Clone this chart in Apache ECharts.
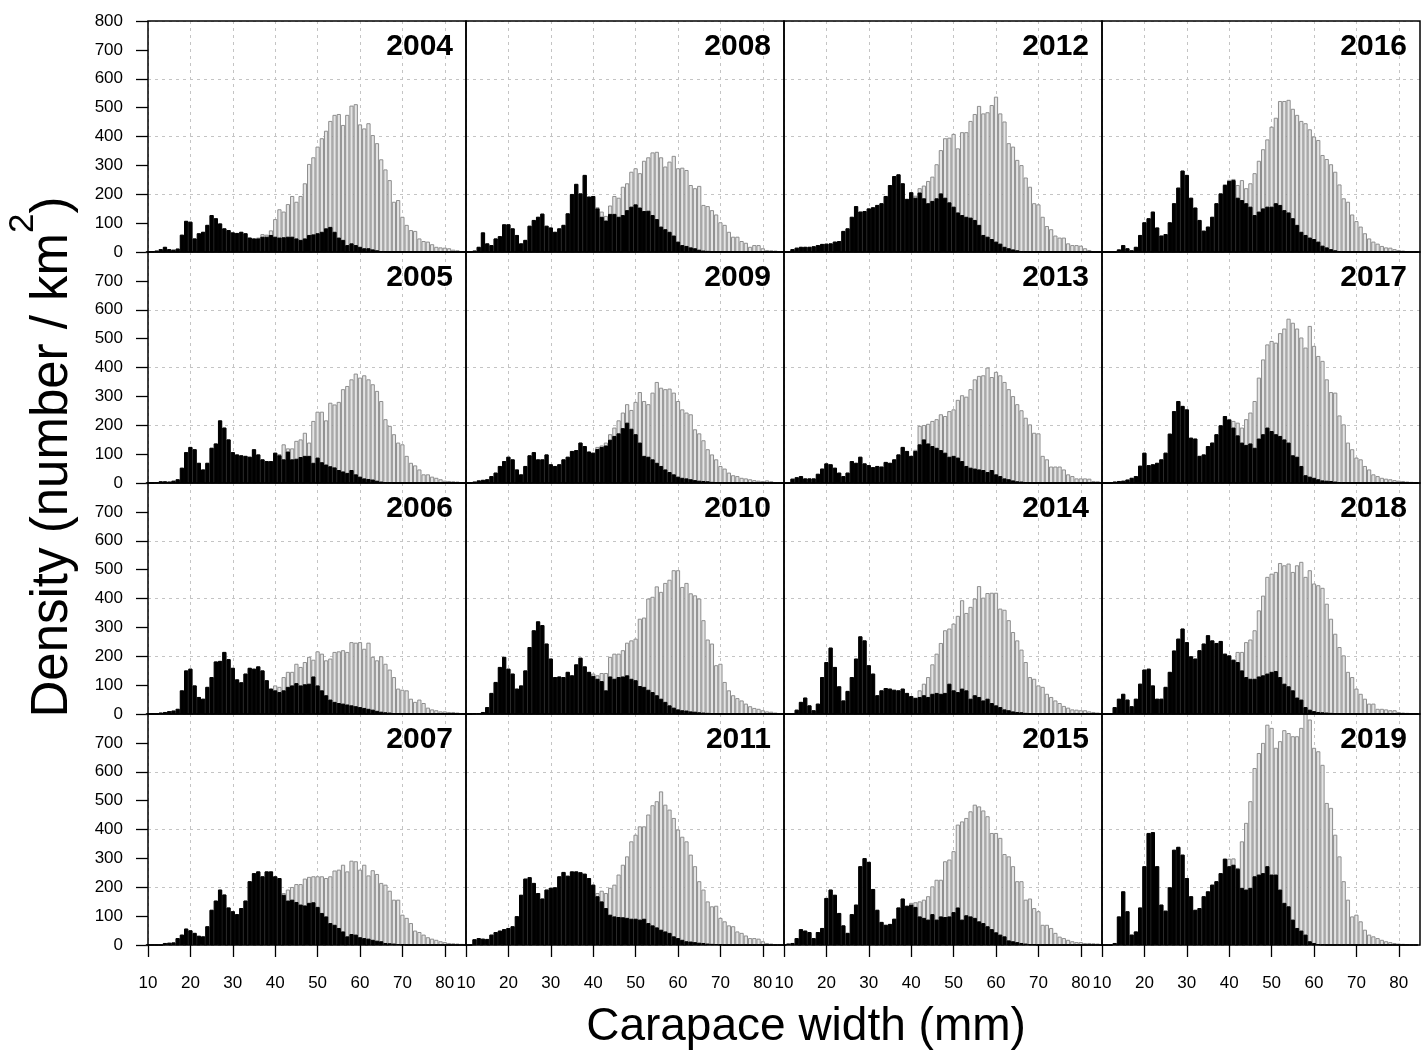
<!DOCTYPE html>
<html>
<head>
<meta charset="utf-8">
<script src="https://cdn.jsdelivr.net/npm/echarts@6/dist/echarts.min.js"></script>
<style>
  html, body { margin: 0; padding: 0; background: #fff; }
  #chart { width: 1422px; height: 1051px; }
</style>
</head>
<body>
<div id="chart"></div>
<script>
// Carapace-width classes (bin centres, mm); each bin is 1 mm wide.
const sizeClassMm = [
  10, 11, 12, 13, 14, 15, 16, 17, 18, 19,
  20, 21, 22, 23, 24, 25, 26, 27, 28, 29,
  30, 31, 32, 33, 34, 35, 36, 37, 38, 39,
  40, 41, 42, 43, 44, 45, 46, 47, 48, 49,
  50, 51, 52, 53, 54, 55, 56, 57, 58, 59,
  60, 61, 62, 63, 64, 65, 66, 67, 68, 69,
  70, 71, 72, 73, 74, 75, 76, 77, 78, 79,
  80, 81, 82, 83, 84
];

const xTickValues = [10, 20, 30, 40, 50, 60, 70, 80];
const yTickValuesTopRow = [0, 100, 200, 300, 400, 500, 600, 700, 800];
const yTickValues = [0, 100, 200, 300, 400, 500, 600, 700];

const years = [2004, 2005, 2006, 2007, 2008, 2009, 2010, 2011,
               2012, 2013, 2014, 2015, 2016, 2017, 2018, 2019];

// Density (number / km^2) per size class: black = subset, grey = total.
const subset2004 = [
  0, 2, 5, 10, 18, 10, 8, 12, 60, 108,
  105, 47, 65, 70, 94, 128, 117, 99, 82, 76,
  68, 66, 70, 65, 50, 47, 47, 53, 53, 59,
  53, 50, 51, 53, 53, 47, 42, 47, 59, 61,
  65, 70, 82, 87, 70, 50, 42, 24, 30, 24,
  18, 13, 13, 9, 6, 3, 2, 0, 0, 0,
  0, 0, 0, 0, 0, 0, 0, 0, 0, 0,
  0, 0, 0, 0, 0];
const total2004 = [
  0, 2, 5, 10, 18, 10, 8, 12, 60, 108,
  105, 47, 65, 70, 94, 128, 117, 99, 82, 76,
  68, 66, 70, 65, 50, 47, 50, 62, 60, 75,
  114, 148, 140, 166, 194, 174, 194, 238, 305, 328,
  365, 394, 420, 454, 475, 478, 440, 475, 507, 512,
  442, 428, 446, 405, 377, 321, 286, 249, 174, 180,
  122, 94, 76, 73, 47, 38, 36, 27, 18, 16,
  15, 13, 8, 6, 3];

const subset2005 = [
  0, 0, 3, 6, 6, 5, 8, 13, 53, 107,
  125, 117, 70, 47, 70, 122, 137, 217, 192, 151,
  107, 99, 96, 94, 91, 117, 99, 82, 76, 76,
  105, 96, 82, 109, 82, 84, 90, 94, 94, 70,
  88, 72, 64, 58, 54, 45, 40, 35, 45, 30,
  22, 16, 14, 12, 8, 5, 3, 2, 1, 0,
  0, 0, 0, 0, 0, 0, 0, 0, 0, 0,
  0, 0, 0, 0, 0];
const total2005 = [
  0, 0, 3, 6, 6, 5, 8, 13, 53, 107,
  125, 117, 70, 47, 70, 122, 137, 217, 192, 151,
  107, 99, 96, 94, 91, 117, 99, 82, 76, 76,
  105, 100, 134, 120, 120, 146, 151, 174, 140, 215,
  247, 247, 217, 278, 272, 281, 325, 336, 359, 379,
  365, 373, 359, 342, 319, 284, 221, 198, 169, 140,
  134, 94, 70, 61, 47, 30, 30, 22, 18, 13,
  8, 7, 6, 5, 3];

const subset2006 = [
  0, 0, 0, 5, 7, 10, 12, 18, 82, 151,
  157, 99, 59, 53, 94, 128, 182, 184, 215, 190,
  160, 120, 110, 140, 160, 157, 165, 151, 117, 88,
  82, 76, 82, 94, 99, 107, 99, 103, 105, 130,
  99, 82, 65, 50, 42, 38, 36, 33, 30, 27,
  24, 21, 18, 15, 11, 8, 6, 5, 3, 2,
  1, 0, 0, 0, 0, 0, 0, 0, 0, 0,
  0, 0, 0, 0, 0];
const total2006 = [
  0, 0, 0, 5, 7, 10, 12, 18, 82, 151,
  157, 99, 59, 53, 94, 128, 182, 184, 215, 190,
  160, 120, 110, 140, 160, 157, 165, 151, 117, 88,
  99, 94, 128, 146, 146, 174, 163, 180, 198, 188,
  217, 209, 186, 192, 215, 217, 221, 215, 249, 247,
  249, 226, 247, 198, 186, 200, 174, 154, 128, 88,
  84, 82, 53, 42, 50, 38, 22, 16, 13, 9,
  9, 7, 7, 5, 3];

const subset2007 = [
  0, 0, 0, 0, 7, 8, 9, 24, 36, 57,
  51, 42, 32, 30, 65, 122, 154, 192, 175, 130,
  117, 107, 128, 154, 221, 249, 255, 238, 255, 255,
  238, 232, 174, 154, 157, 149, 140, 137, 146, 148,
  132, 111, 99, 76, 70, 59, 47, 30, 38, 36,
  27, 24, 22, 18, 15, 13, 7, 6, 5, 3,
  2, 0, 0, 0, 0, 0, 0, 0, 0, 0,
  0, 0, 0, 0, 0];
const total2007 = [
  0, 0, 0, 0, 7, 8, 9, 24, 36, 57,
  51, 42, 32, 30, 65, 122, 154, 192, 175, 130,
  117, 107, 128, 154, 221, 249, 255, 238, 255, 255,
  238, 232, 180, 192, 201, 211, 211, 230, 236, 238,
  238, 238, 232, 238, 258, 261, 278, 255, 292, 290,
  261, 278, 241, 259, 246, 215, 209, 188, 157, 157,
  105, 94, 76, 50, 45, 36, 27, 22, 18, 13,
  10, 7, 6, 5, 4];

const subset2008 = [
  0, 0, 5, 18, 68, 30, 24, 47, 55, 96,
  96, 82, 59, 30, 42, 91, 111, 122, 133, 91,
  85, 70, 82, 94, 134, 201, 236, 203, 267, 192,
  194, 151, 122, 109, 132, 132, 122, 128, 145, 157,
  165, 154, 142, 143, 128, 114, 88, 79, 70, 57,
  36, 24, 21, 16, 13, 8, 5, 4, 0, 0,
  0, 0, 0, 0, 0, 0, 0, 0, 0, 0,
  0, 0, 0, 0, 0];
const total2008 = [
  0, 0, 5, 18, 68, 30, 24, 47, 55, 96,
  96, 82, 59, 30, 42, 91, 111, 122, 133, 91,
  85, 70, 82, 94, 134, 201, 236, 203, 267, 192,
  194, 155, 140, 125, 161, 194, 188, 226, 238, 278,
  290, 273, 316, 328, 345, 347, 328, 296, 313, 333,
  290, 292, 284, 232, 221, 229, 163, 159, 145, 130,
  103, 94, 70, 53, 53, 38, 32, 18, 24, 24,
  13, 7, 6, 5, 2];

const subset2009 = [
  0, 0, 5, 9, 11, 13, 24, 36, 59, 76,
  91, 82, 47, 30, 59, 96, 107, 82, 82, 99,
  65, 59, 65, 82, 91, 111, 114, 140, 128, 109,
  105, 118, 125, 130, 150, 163, 172, 190, 209, 188,
  169, 140, 94, 91, 82, 70, 59, 47, 38, 30,
  22, 18, 16, 13, 10, 8, 7, 6, 4, 3,
  2, 1, 0, 0, 0, 0, 0, 0, 0, 0,
  0, 0, 0, 0, 0];
const total2009 = [
  0, 0, 5, 9, 11, 13, 24, 36, 59, 76,
  91, 82, 47, 30, 59, 96, 107, 82, 82, 99,
  65, 59, 65, 82, 91, 111, 114, 140, 128, 109,
  105, 125, 130, 140, 169, 192, 217, 244, 273, 253,
  281, 315, 284, 273, 313, 350, 330, 325, 327, 313,
  284, 255, 244, 238, 186, 172, 148, 117, 99, 82,
  59, 50, 36, 27, 24, 18, 16, 13, 10, 8,
  7, 9, 6, 3, 2];

const subset2010 = [
  0, 0, 3, 3, 7, 24, 73, 111, 163, 198,
  157, 140, 88, 99, 151, 232, 290, 321, 308, 244,
  192, 128, 130, 128, 146, 134, 172, 195, 165, 146,
  132, 122, 114, 82, 130, 122, 128, 130, 134, 122,
  117, 97, 94, 84, 76, 65, 53, 42, 30, 22,
  16, 13, 12, 9, 8, 6, 5, 4, 3, 2,
  1, 0, 0, 0, 0, 0, 0, 0, 0, 0,
  0, 0, 0, 0, 0];
const total2010 = [
  0, 0, 3, 3, 7, 24, 73, 111, 163, 198,
  157, 140, 88, 99, 151, 232, 290, 321, 308, 244,
  192, 128, 130, 128, 146, 134, 172, 195, 165, 146,
  140, 134, 142, 142, 198, 209, 209, 221, 247, 255,
  261, 330, 334, 400, 406, 442, 423, 454, 465, 498,
  498, 440, 454, 418, 411, 400, 325, 258, 244, 169,
  174, 111, 82, 65, 55, 47, 36, 27, 21, 18,
  13, 9, 8, 5, 3];

const subset2011 = [
  0, 0, 20, 24, 22, 21, 36, 45, 50, 55,
  59, 65, 100, 174, 230, 235, 215, 180, 161, 192,
  198, 200, 238, 253, 240, 255, 255, 252, 247, 232,
  209, 169, 151, 128, 105, 99, 97, 96, 94, 91,
  91, 88, 91, 76, 68, 61, 53, 47, 42, 30,
  24, 18, 13, 12, 10, 8, 7, 5, 4, 3,
  2, 0, 0, 0, 0, 0, 0, 0, 0, 0,
  0, 0, 0, 0, 0];
const total2011 = [
  0, 0, 20, 24, 22, 21, 36, 45, 50, 55,
  59, 65, 100, 174, 230, 235, 215, 180, 161, 192,
  198, 200, 238, 253, 240, 255, 255, 252, 247, 232,
  209, 180, 188, 180, 198, 209, 244, 278, 307, 359,
  382, 411, 411, 452, 484, 498, 532, 486, 469, 440,
  400, 375, 359, 313, 273, 221, 192, 151, 134, 136,
  94, 82, 68, 65, 47, 42, 33, 24, 24, 22,
  13, 7, 5, 3, 2];

const subset2012 = [
  0, 0, 10, 15, 18, 18, 18, 20, 24, 28,
  29, 30, 36, 38, 73, 82, 122, 159, 140, 142,
  151, 155, 163, 169, 194, 232, 263, 269, 238, 184,
  207, 188, 206, 186, 169, 177, 186, 203, 188, 172,
  157, 137, 128, 122, 119, 111, 94, 59, 53, 45,
  36, 29, 18, 13, 9, 6, 3, 2, 0, 0,
  0, 0, 0, 0, 0, 0, 0, 0, 0, 0,
  0, 0, 0, 0, 0];
const total2012 = [
  0, 0, 10, 15, 18, 18, 18, 20, 24, 28,
  29, 30, 36, 38, 73, 82, 122, 159, 140, 142,
  151, 155, 163, 169, 194, 232, 263, 269, 238, 184,
  207, 195, 221, 230, 246, 261, 304, 353, 394, 396,
  409, 359, 415, 415, 454, 478, 506, 480, 484, 509,
  538, 480, 452, 377, 365, 319, 301, 258, 226, 169,
  165, 122, 90, 79, 57, 50, 50, 30, 24, 24,
  22, 13, 7, 3, 1];

const subset2013 = [
  0, 0, 15, 20, 24, 16, 16, 16, 32, 50,
  68, 65, 53, 36, 24, 36, 76, 70, 91, 68,
  62, 55, 59, 57, 73, 70, 82, 99, 125, 111,
  94, 111, 134, 151, 137, 128, 122, 114, 105, 91,
  94, 88, 76, 59, 53, 50, 47, 45, 38, 45,
  30, 24, 16, 13, 9, 6, 5, 3, 1, 0,
  0, 0, 0, 0, 0, 0, 0, 0, 0, 0,
  0, 0, 0, 0, 0];
const total2013 = [
  0, 0, 15, 20, 24, 16, 16, 16, 32, 50,
  68, 65, 53, 36, 24, 36, 76, 70, 91, 68,
  62, 55, 59, 57, 73, 70, 82, 99, 125, 111,
  94, 115, 198, 201, 205, 215, 221, 238, 232, 249,
  255, 288, 304, 299, 325, 359, 371, 373, 400, 367,
  385, 373, 350, 325, 301, 273, 252, 226, 203, 174,
  172, 94, 82, 57, 57, 57, 47, 30, 24, 16,
  16, 16, 15, 7, 6];

const subset2014 = [
  0, 0, 0, 15, 42, 57, 30, 13, 36, 128,
  180, 230, 163, 96, 47, 80, 128, 192, 269, 255,
  169, 140, 65, 82, 90, 88, 84, 82, 88, 73,
  62, 56, 59, 65, 59, 70, 73, 70, 73, 105,
  82, 76, 88, 82, 53, 65, 59, 47, 53, 38,
  30, 24, 16, 13, 9, 7, 6, 4, 2, 0,
  0, 0, 0, 0, 0, 0, 0, 0, 0, 0,
  0, 0, 0, 0, 0];
const total2014 = [
  0, 0, 0, 15, 42, 57, 30, 13, 36, 128,
  180, 230, 163, 96, 47, 80, 128, 192, 269, 255,
  169, 140, 65, 82, 90, 88, 84, 82, 88, 73,
  62, 56, 82, 105, 128, 172, 209, 246, 290, 296,
  313, 340, 394, 350, 371, 400, 443, 403, 419, 420,
  420, 365, 361, 325, 284, 255, 223, 180, 128, 122,
  99, 94, 70, 59, 47, 38, 28, 22, 16, 15,
  13, 13, 9, 7, 5];

const subset2015 = [
  0, 5, 7, 24, 55, 50, 45, 24, 45, 59,
  163, 192, 174, 111, 68, 42, 107, 140, 273, 301,
  288, 194, 122, 80, 70, 73, 91, 130, 161, 136,
  140, 132, 99, 94, 88, 107, 88, 99, 97, 99,
  114, 130, 88, 103, 99, 94, 82, 76, 65, 55,
  44, 36, 30, 16, 13, 10, 7, 5, 3, 2,
  0, 0, 0, 0, 0, 0, 0, 0, 0, 0,
  0, 0, 0, 0, 0];
const total2015 = [
  0, 5, 7, 24, 55, 50, 45, 24, 45, 59,
  163, 192, 174, 111, 68, 42, 107, 140, 273, 301,
  288, 194, 122, 80, 70, 73, 91, 130, 161, 136,
  146, 148, 151, 157, 169, 203, 226, 226, 290, 296,
  325, 417, 428, 440, 463, 486, 480, 466, 446, 388,
  388, 371, 315, 307, 273, 221, 221, 157, 161, 128,
  117, 70, 70, 59, 42, 29, 24, 18, 13, 10,
  10, 7, 7, 6, 5];

const subset2016 = [
  0, 0, 0, 0, 9, 24, 13, 6, 18, 59,
  103, 117, 140, 85, 57, 62, 103, 169, 223, 282,
  267, 188, 154, 111, 74, 88, 122, 169, 203, 232,
  246, 249, 188, 180, 169, 157, 128, 140, 151, 157,
  157, 169, 163, 145, 137, 117, 94, 70, 59, 50,
  45, 36, 22, 16, 10, 6, 3, 1, 0, 0,
  0, 0, 0, 0, 0, 0, 0, 0, 0, 0,
  0, 0, 0, 0, 0];
const total2016 = [
  0, 0, 0, 0, 9, 24, 13, 6, 18, 59,
  103, 117, 140, 85, 57, 62, 103, 169, 223, 282,
  267, 188, 154, 111, 74, 88, 122, 169, 203, 235,
  250, 253, 232, 249, 221, 238, 273, 316, 356, 390,
  434, 465, 523, 523, 527, 496, 475, 454, 446, 425,
  400, 388, 336, 322, 304, 278, 234, 186, 174, 130,
  107, 88, 65, 47, 36, 29, 21, 16, 15, 10,
  7, 5, 3, 2, 1];

const subset2017 = [
  0, 0, 0, 5, 7, 8, 12, 18, 24, 60,
  105, 62, 65, 70, 82, 105, 171, 249, 284, 267,
  255, 157, 154, 94, 99, 128, 140, 169, 200, 232,
  220, 192, 165, 140, 132, 137, 122, 154, 169, 192,
  180, 169, 163, 151, 140, 96, 91, 59, 27, 22,
  18, 13, 9, 8, 7, 5, 3, 2, 1, 0,
  0, 0, 0, 0, 0, 0, 0, 0, 0, 0,
  0, 0, 0, 0, 0];
const total2017 = [
  0, 0, 0, 5, 7, 8, 12, 18, 24, 60,
  105, 62, 65, 70, 82, 105, 171, 249, 284, 267,
  255, 157, 154, 94, 99, 128, 140, 169, 200, 232,
  222, 215, 209, 192, 221, 244, 284, 365, 428, 480,
  492, 486, 519, 535, 569, 555, 535, 504, 469, 544,
  475, 440, 423, 359, 315, 313, 234, 203, 140, 117,
  88, 82, 59, 47, 30, 24, 18, 15, 13, 10,
  8, 7, 5, 4, 3];

const subset2018 = [
  0, 0, 0, 24, 53, 70, 50, 27, 53, 105,
  154, 157, 99, 53, 53, 94, 146, 220, 261, 296,
  249, 200, 192, 221, 244, 273, 255, 246, 253, 209,
  203, 188, 180, 151, 128, 122, 122, 130, 134, 140,
  146, 149, 128, 105, 96, 82, 57, 50, 24, 15,
  10, 7, 6, 5, 4, 3, 2, 1, 0, 0,
  0, 0, 0, 0, 0, 0, 0, 0, 0, 0,
  0, 0, 0, 0, 0];
const total2018 = [
  0, 0, 0, 24, 53, 70, 50, 27, 53, 105,
  154, 157, 99, 53, 53, 94, 146, 220, 261, 296,
  249, 200, 192, 221, 244, 273, 255, 246, 253, 209,
  203, 188, 215, 215, 249, 258, 290, 359, 410, 475,
  486, 492, 523, 515, 521, 492, 515, 527, 475, 498,
  452, 446, 437, 382, 330, 278, 232, 203, 146, 128,
  88, 70, 53, 36, 36, 18, 18, 16, 13, 13,
  7, 5, 4, 3, 2];

const subset2019 = [
  0, 0, 0, 7, 99, 186, 117, 36, 47, 130,
  273, 388, 391, 273, 140, 119, 200, 330, 340, 313,
  232, 169, 122, 128, 169, 186, 209, 221, 249, 299,
  273, 278, 264, 198, 192, 198, 238, 244, 249, 273,
  244, 244, 192, 146, 134, 88, 59, 50, 36, 13,
  7, 3, 1, 0, 0, 0, 0, 0, 0, 0,
  0, 0, 0, 0, 0, 0, 0, 0, 0, 0,
  0, 0, 0, 0, 0];
const total2019 = [
  0, 0, 0, 7, 99, 186, 117, 36, 47, 130,
  273, 388, 391, 273, 140, 119, 200, 330, 340, 313,
  232, 169, 122, 128, 169, 186, 209, 221, 249, 299,
  299, 300, 267, 359, 423, 498, 613, 665, 700, 763,
  752, 683, 706, 744, 734, 723, 723, 752, 800, 781,
  683, 671, 624, 492, 475, 382, 307, 221, 157, 99,
  105, 82, 53, 36, 30, 24, 18, 13, 10, 7,
  5, 4, 3, 2, 1];

const panelData = {
  2004: [subset2004, total2004], 2005: [subset2005, total2005],
  2006: [subset2006, total2006], 2007: [subset2007, total2007],
  2008: [subset2008, total2008], 2009: [subset2009, total2009],
  2010: [subset2010, total2010], 2011: [subset2011, total2011],
  2012: [subset2012, total2012], 2013: [subset2013, total2013],
  2014: [subset2014, total2014], 2015: [subset2015, total2015],
  2016: [subset2016, total2016], 2017: [subset2017, total2017],
  2018: [subset2018, total2018], 2019: [subset2019, total2019]
};

// ---- layout ----
const CHART_W = 1422, CHART_H = 1051;
const FONT = '"Liberation Sans", Arial, sans-serif';
const PLOT_LEFT = 148, PLOT_TOP = 21;
const PANEL_W = 318, PANEL_H = 231;
const N_ROWS = 4;
const X_MIN = 10, X_MAX = 85;
const BAR_PX = PANEL_W / (X_MAX - X_MIN);
const GRID_LINE = { color: '#c4c4c4', width: 1, type: [3, 4] };

const grids = [], xAxes = [], yAxes = [], extraYAxes = [], series = [], titles = [];

years.forEach((year, i) => {
  const col = Math.floor(i / N_ROWS);
  const row = i % N_ROWS;
  const left = PLOT_LEFT + col * PANEL_W;
  const top = PLOT_TOP + row * PANEL_H;
  const isBottom = row === N_ROWS - 1;
  const isLeft = col === 0;

  grids.push({
    left, top, width: PANEL_W, height: PANEL_H,
    show: true, backgroundColor: 'transparent',
    borderColor: '#000', borderWidth: 1.5, z: 10
  });

  xAxes.push({
    gridIndex: i, type: 'value', min: X_MIN, max: X_MAX, interval: 10,
    axisLine: { show: false },
    axisTick: { show: isBottom, customValues: xTickValues, length: 12,
                lineStyle: { color: '#000', width: 1.3 } },
    axisLabel: { show: isBottom, customValues: xTickValues, fontSize: 17,
                 color: '#000', fontFamily: FONT, margin: 30 },
    splitLine: { show: true, lineStyle: GRID_LINE }
  });

  // Value axis carrying the dotted reference lines at 200, 400, 600.
  yAxes.push({
    gridIndex: i, type: 'value', min: 0, max: 800, interval: 200,
    axisLine: { show: false }, axisTick: { show: false }, axisLabel: { show: false },
    splitLine: { show: true, lineStyle: GRID_LINE }
  });

  // Left column: tick marks and labels every 100.
  if (isLeft) {
    const ticks = row === 0 ? yTickValuesTopRow : yTickValues;
    extraYAxes.push({
      gridIndex: i, type: 'value', min: 0, max: 800, interval: 100, position: 'left',
      axisLine: { show: false },
      axisTick: { show: true, customValues: ticks, length: 12,
                  lineStyle: { color: '#000', width: 1.3 } },
      axisLabel: { show: true, customValues: ticks, fontSize: 17,
                   color: '#000', fontFamily: FONT, margin: 25 },
      splitLine: { show: false }
    });
  }

  const [subset, total] = panelData[year];

  series.push({
    type: 'bar', xAxisIndex: i, yAxisIndex: i,
    data: sizeClassMm.map((mm, k) => [mm, total[k]]),
    barWidth: BAR_PX, barGap: '-100%',
    itemStyle: { color: '#e4e4e4', borderColor: '#8e8e8e', borderWidth: 1 },
    silent: true, z: 2
  });
  series.push({
    type: 'bar', xAxisIndex: i, yAxisIndex: i,
    data: sizeClassMm.map((mm, k) => [mm, subset[k]]),
    barWidth: BAR_PX, barGap: '-100%',
    itemStyle: { color: '#000', borderColor: '#000', borderWidth: 1 },
    silent: true, z: 3
  });

  titles.push({
    text: String(year),
    right: CHART_W - (left + PANEL_W) + 13,
    top: top + 11,
    padding: 0,
    textStyle: { fontSize: 30, fontWeight: 'bold', color: '#000', fontFamily: FONT }
  });
});

const option = {
  animation: false,
  backgroundColor: '#fff',
  textStyle: { fontFamily: FONT },
  title: titles,
  grid: grids,
  xAxis: xAxes,
  yAxis: yAxes.concat(extraYAxes),
  series: series,
  graphic: [
    {
      type: 'text', x: 806, y: 1027,
      style: { text: 'Carapace width (mm)', fontSize: 46, fontFamily: FONT,
               fill: '#000', align: 'center', verticalAlign: 'middle' }
    },
    {
      type: 'text', x: 42, y: 457, rotation: Math.PI / 2,
      style: {
        text: '{m|Density (number / km}{s|2}{m|)}',
        align: 'center', verticalAlign: 'middle', fill: '#000',
        rich: {
          m: { fontSize: 51, fontFamily: FONT, fill: '#000', lineHeight: 72, verticalAlign: 'bottom' },
          s: { fontSize: 35, fontFamily: FONT, fill: '#000', lineHeight: 35, verticalAlign: 'top' }
        }
      }
    }
  ]
};

const chart = echarts.init(document.getElementById('chart'), null,
                           { renderer: 'canvas', width: CHART_W, height: CHART_H });
chart.setOption(option);
</script>
</body>
</html>
